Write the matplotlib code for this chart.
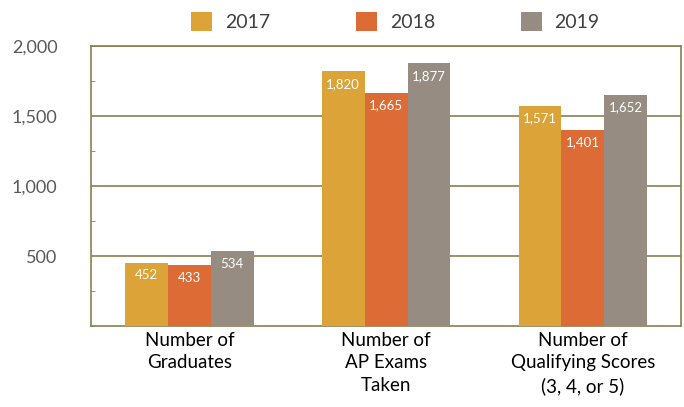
import numpy as np
import matplotlib
matplotlib.use("Agg")
import matplotlib.pyplot as plt
from matplotlib.ticker import FuncFormatter, MultipleLocator

categories = ["Number of\nGraduates", "Number of\nAP Exams\nTaken",
              "Number of\nQualifying Scores\n(3, 4, or 5)"]
years = ["2017", "2018", "2019"]
vals_2017 = [452, 1820, 1571]
vals_2018 = [433, 1665, 1401]
vals_2019 = [534, 1877, 1652]
colors = ["#DBA338", "#DC6B35", "#968C82"]

plt.rcParams["font.family"] = ["Lato", "DejaVu Sans"]

fig = plt.figure(figsize=(6.84, 4.07), dpi=100)
ax = fig.add_axes([0.133, 0.199, 0.863, 0.688])

frame = "#8C7E50"
x = np.arange(len(categories))
w = 0.218
series = [vals_2017, vals_2018, vals_2019]
for i, (yr, vals, c) in enumerate(zip(years, series, colors)):
    pos = x + (i - 1) * w
    bars = ax.bar(pos, vals, width=w, color=c, label=yr, zorder=3)
    for b, v in zip(bars, vals):
        ax.text(b.get_x() + b.get_width() / 2, v - 90, f"{v:,}",
                ha="center", va="center", color="white", fontsize=9.5, zorder=4)

ax.set_xlim(-0.5, 2.5)
ax.set_ylim(0, 2000)
ax.set_yticks([500, 1000, 1500, 2000])
ax.yaxis.set_minor_locator(MultipleLocator(250))
ax.yaxis.set_major_formatter(FuncFormatter(lambda v, p: f"{int(v):,}"))
ax.grid(True, axis="y", color=frame, linewidth=1.2, zorder=1)
for s in ax.spines.values():
    s.set_color(frame)
    s.set_linewidth(1.2)
ax.tick_params(axis="y", which="major", length=0, pad=24, labelsize=13,
               labelcolor="#595959")
ax.tick_params(axis="y", which="minor", direction="in", length=3, color=frame)
ax.set_xticks(x)
ax.set_xticklabels(categories, fontsize=13.5, color="black", linespacing=1.4)
ax.tick_params(axis="x", length=0, pad=4)

fig.legend(loc="center", bbox_to_anchor=(0.578, 0.948), ncol=3, frameon=False,
           fontsize=14, handlelength=1.08, handleheight=1.13, handletextpad=0.67,
           columnspacing=4.4, labelcolor="#404040")

fig.savefig("out.png", dpi=100)
